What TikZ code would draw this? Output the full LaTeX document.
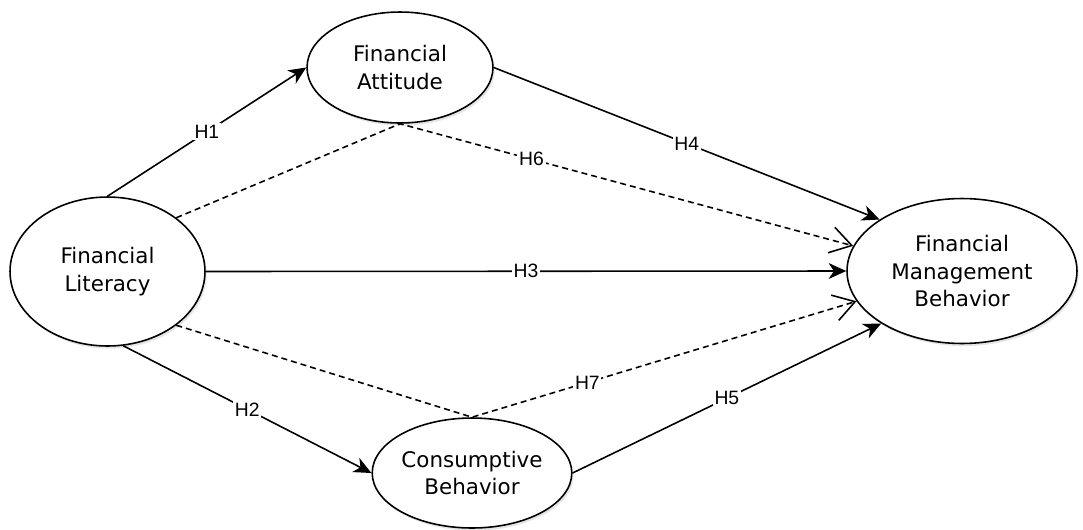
\documentclass[tikz,border=0pt]{standalone}
\usepackage{fontspec}
\setmainfont{DejaVu Sans}
\newfontfamily\hlabelfont{Liberation Sans}
\usetikzlibrary{%
  arrows.meta,%
  shapes.geometric,% wg. ellipse
  shadows%
}

\begin{document}
\begin{tikzpicture}[
  x=0.02cm, y=-0.02cm,
  font=\fontsize{12.2}{15.8}\selectfont,
  line width=0.9pt,
  construct/.style={ellipse, draw, fill=white, inner sep=0pt, align=center,
    drop shadow={shadow xshift=1pt, shadow yshift=-1.5pt, opacity=0.2}},
  direct/.style={-{Stealth[length=10pt,width=9pt,inset=3pt]}},
  mediated/.style={dash pattern=on 3.4pt off 2.3pt,
    -{Straight Barb[length=12pt,width=15pt]}},
  hyp/.style={fill=white, inner sep=1pt,
    font=\hlabelfont\fontsize{11}{12}\selectfont},
]

\useasboundingbox (0,0) rectangle (1083,529);

% constructs
\node[construct, minimum width=3.72cm, minimum height=2.22cm] (FA) at (400,67.5) {Financial\\Attitude};
\node[construct, minimum width=3.9cm, minimum height=2.98cm] (FL) at (107.5,271.5) {Financial\\Literacy};
\node[construct, minimum width=3.82cm, minimum height=2.2cm] (CB) at (472,473) {Consumptive\\Behavior};
\node[construct, minimum width=4.6cm, minimum height=2.9cm] (FMB) at (962,271) {Financial\\Management\\Behavior};

% direct paths
\draw[direct] (FL.north) -- node[hyp] {H1} (FA.west);
\draw[direct] (FL.-78) -- node[hyp] {H2} (CB.west);
\draw[direct] (FL.east) -- node[hyp] {H3} (FMB.west);
\draw[direct] (FA.east) -- node[hyp] {H4} (FMB.148);
\draw[direct] (CB.east) -- node[hyp] {H5} (FMB.213);

% mediated paths
\draw[mediated] (FL.38) -- (FA.south) -- node[hyp, pos=0.29] {H6} (FMB.167);
\draw[mediated] (FL.-38) -- (CB.north) -- node[hyp, pos=0.3] {H7} (FMB.196);

\end{tikzpicture}
\end{document}
